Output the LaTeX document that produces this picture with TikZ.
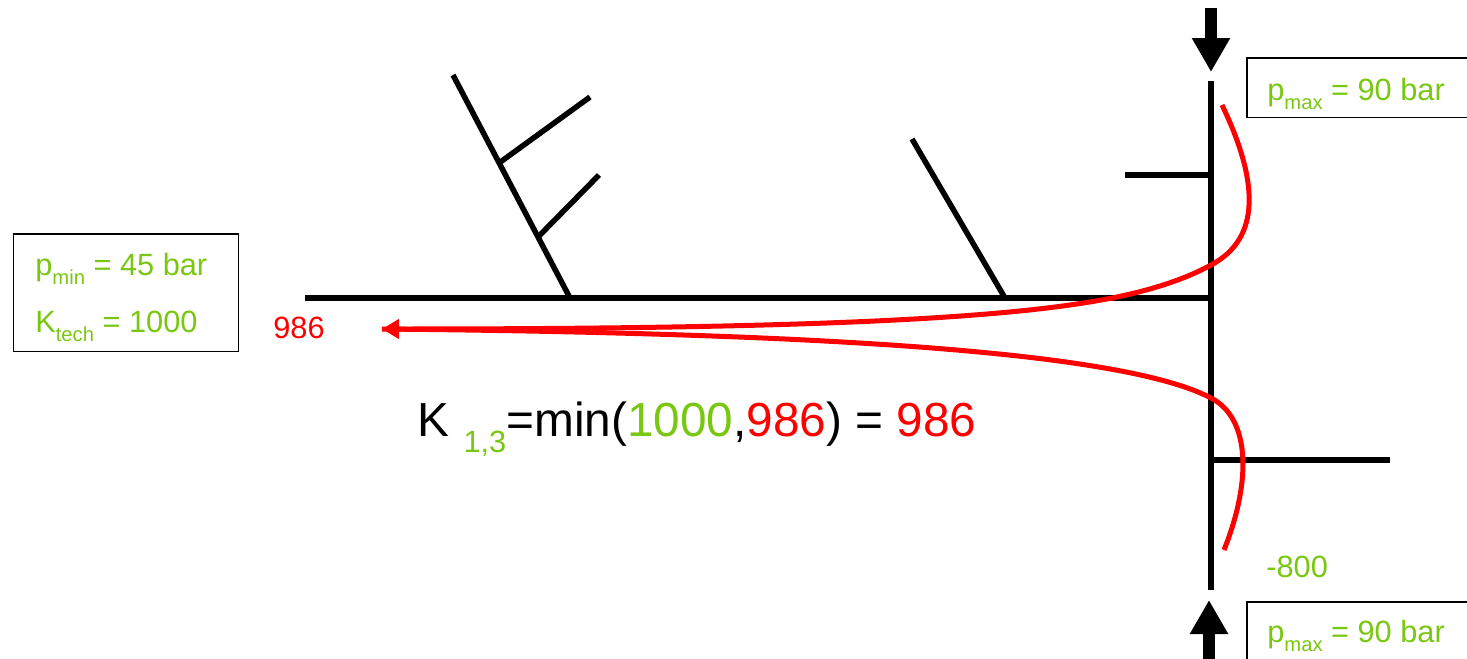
\documentclass[tikz,border=0pt]{standalone}
\usepackage{fontspec}
\setmainfont{Liberation Sans}
\usetikzlibrary{arrows.meta}
\definecolor{lgreen}{RGB}{122,199,18}
\definecolor{pred}{RGB}{255,0,0}
\newcommand\lsub[1]{\raisebox{-0.3em}{\fontsize{11.5}{12}\selectfont #1}}
\begin{document}
\begin{tikzpicture}[x=0.02cm,y=-0.02cm,
  pipe/.style={line width=0.11cm},
  flow/.style={pred,line width=0.1cm},
  load/.style={line width=0.24cm,-{Triangle[width=0.72cm,length=0.68cm]}},
  infobox/.style={draw,line width=0.03cm,anchor=north west,inner sep=0},
  lbl/.style={font=\fontsize{17.5}{20}\selectfont,anchor=base west,inner sep=0}]
\useasboundingbox (0,0) rectangle (1467,659);
% coordinates
\coordinate (mL) at (305,298); \coordinate (mR) at (1209,298);
\coordinate (vT) at (1211,81); \coordinate (vB) at (1211,590);
\coordinate (sT) at (1125,175); \coordinate (sTj) at (1211,175);
\coordinate (sB) at (1390,460); \coordinate (sBj) at (1211,460);
\coordinate (b1) at (570,298); \coordinate (b1e) at (453,75);
\coordinate (b1a) at (499,163); \coordinate (b1ae) at (590,97);
\coordinate (b1b) at (538,237); \coordinate (b1be) at (599,175);
\coordinate (b2) at (1005,298); \coordinate (b2e) at (912,139);
\coordinate (aT0) at (1211,8); \coordinate (aT1) at (1211,72);
\coordinate (aB0) at (1209,670); \coordinate (aB1) at (1209,600);
\coordinate (fT) at (1222,105); \coordinate (fTx) at (1211,265);
\coordinate (fTm) at (1112,298);
\coordinate (fB) at (1224,550); \coordinate (fBx) at (1211,398);
\coordinate (tip) at (382,329);
% pipes
\draw[pipe] (mL) -- (mR);
\draw[pipe,line width=0.12cm] (vT) -- (vB);
\draw[pipe] (sT) -- (sTj);
\draw[pipe] (sBj) -- (sB);
\draw[pipe] (b1) -- (b1e);
\draw[pipe] (b1a) -- (b1ae);
\draw[pipe] (b1b) -- (b1be);
\draw[pipe] (b2) -- (b2e);
% loads
\draw[load] (aT0) -- (aT1);
\draw[load] (aB0) -- (aB1);
% flows
\draw[flow,-{Triangle[length=0.34cm,width=0.38cm]}] (fT) .. controls (1258,180) and (1262,238) .. (fTx) .. controls (1180,282) and (1142,292) .. (fTm) .. controls (1010,318) and (820,329) .. (tip);
\draw[flow] (fB) .. controls (1252,480) and (1250,418) .. (fBx) .. controls (1120,350) and (800,333) .. (tip);
% boxes
\node[infobox,minimum width=4.48cm,minimum height=1.2cm] (boxT) at (1246,57) {};
\node[infobox,minimum width=4.48cm,minimum height=1.3cm] (boxB) at (1246,601) {};
\node[infobox,minimum width=4.5cm,minimum height=2.36cm] (boxL) at (13,233) {};
% labels
\node[lbl,lgreen] (pmaxT) at (1267,100) {p\lsub{max} = 90 bar};
\node[lbl,lgreen] (pmaxB) at (1267,642) {p\lsub{max} = 90 bar};
\node[lbl,lgreen] (pmin) at (35,275) {p\lsub{min} = 45 bar};
\node[lbl,lgreen] (ktech) at (35,332) {K\lsub{tech} = 1000};
\node[lbl,pred] (v986) at (273,338) {986};
\node[lbl,lgreen] (v800) at (1266,577) {-800};
\node[anchor=base west,inner sep=0,font=\fontsize{27.2}{30}\selectfont] (kform) at (417,436)
  {K\hspace{0.3em}\textcolor{lgreen}{\raisebox{-0.35em}{\fontsize{17.5}{20}\selectfont 1,3}}=min(\textcolor{lgreen}{1000},\textcolor{pred}{986}) = \textcolor{pred}{986}};
\end{tikzpicture}
\end{document}
